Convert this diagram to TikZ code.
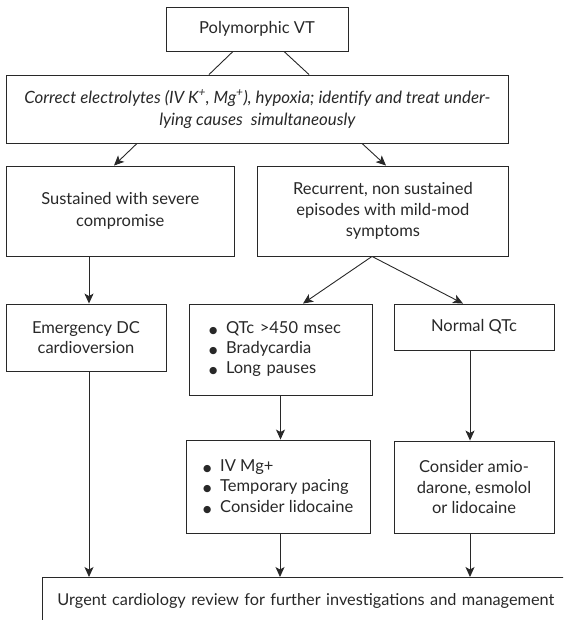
\documentclass[tikz,border=0pt]{standalone}
\usepackage{fontspec}
\setmainfont{Lato}
\newfontfamily\symfont{DejaVu Sans}
\usetikzlibrary{arrows.meta}
\definecolor{ink}{RGB}{40,40,40}
\newcommand\bul{\makebox[17pt][l]{\raisebox{0.3pt}{\symfont\fontsize{9.5}{9.5}\selectfont ●}}}
\tikzset{
  box/.style={draw=ink, line width=0.9pt, text=ink, align=center, inner sep=0pt,
    font=\fontsize{16.5}{20.8}\selectfont},
  conn/.style={draw=ink, line width=0.9pt},
  arr/.style={conn, -{Stealth[length=10pt,width=9pt,inset=2.5pt]}}
}
\begin{document}
\begin{tikzpicture}[x=1pt,y=-1pt]
\useasboundingbox (0,0) rectangle (563,620);
\clip (0,0) rectangle (563,620);
\node[box, minimum width=182pt, minimum height=44pt] (pvt) at (257,29) {Polymorphic VT};
\node[box, minimum width=502.7pt, minimum height=68pt, font=\itshape\fontsize{16.9}{22}\selectfont] (corr) at (257.35,109)
  {Correct electrolytes (IV K\textsuperscript{+}, Mg\textsuperscript{+}), hypoxia; identify and treat under-\\lying causes\ \ simultaneously};
\node[box, minimum width=228.5pt, minimum height=90pt, font=\fontsize{16.5}{22.3}\selectfont] (sust) at (120.25,211) {Sustained with severe\\compromise};
\node[box, minimum width=251.7pt, minimum height=90pt] (recur) at (382.85,211) {Recurrent, non sustained\\episodes with mild-mod\\symptoms};
\node[box, minimum width=160pt, minimum height=67pt] (emerg) at (86,337.5) {Emergency DC\\cardioversion};
\node[box, align=left, text width=143pt, inner xsep=20pt, minimum height=91pt, font=\fontsize{16.5}{20}\selectfont] (qtc) at (280.5,349.5) {\bul QTc >450 msec\\\bul Bradycardia\\\bul Long pauses};
\node[box, minimum width=160pt, minimum height=46pt] (norm) at (474,327) {Normal QTc};
\node[box, align=left, minimum width=184.5pt, minimum height=93pt, font=\fontsize{16.5}{20.5}\selectfont] (ivmg) at (278.25,486.5) {\bul IV Mg+\\\bul Temporary pacing\\\bul Consider lidocaine};
\node[box, minimum width=160pt, minimum height=92pt] (amio) at (474,487) {Consider amio-\\darone, esmolol\\or lidocaine};
\node[box, anchor=north west, align=left, text width=570pt, inner xsep=15pt, inner ysep=0pt, text height=28pt, text depth=40pt, font=\fontsize{16.3}{20}\selectfont] (urg) at (42,577)
  {Urgent cardiology review for further investigations and management};
% connectors
\draw[conn] ([xshift=-24pt]pvt.south) -- ([xshift=-48.35pt]corr.north);
\draw[conn] ([xshift=27pt]pvt.south) -- ([xshift=51.65pt]corr.north);
\draw[arr] ([xshift=-120.35pt]corr.south) -- ([xshift=-6.25pt]sust.north);
\draw[arr] ([xshift=104.65pt]corr.south) -- ([xshift=3.15pt]recur.north);
\draw[arr] ([xshift=3pt]emerg.north |- sust.south) -- ([xshift=3pt]emerg.north);
\draw[arr] ([xshift=-10.85pt]recur.south) -- ([xshift=22.5pt]qtc.north);
\draw[arr] ([xshift=-10.85pt]recur.south) -- ([xshift=-11pt]norm.north);
\draw[arr] (qtc.south) -- (qtc.south |- ivmg.north);
\draw[arr] ([xshift=-4pt]norm.south) -- ([xshift=-4pt]norm.south |- amio.north);
\draw[arr] ([xshift=3pt]emerg.south) -- ([xshift=3pt]emerg.south |- urg.north);
\draw[arr] ([xshift=1.75pt]ivmg.south) -- ([xshift=1.75pt]ivmg.south |- urg.north);
\draw[arr] ([xshift=-4pt]amio.south) -- ([xshift=-4pt]amio.south |- urg.north);
\end{tikzpicture}
\end{document}
